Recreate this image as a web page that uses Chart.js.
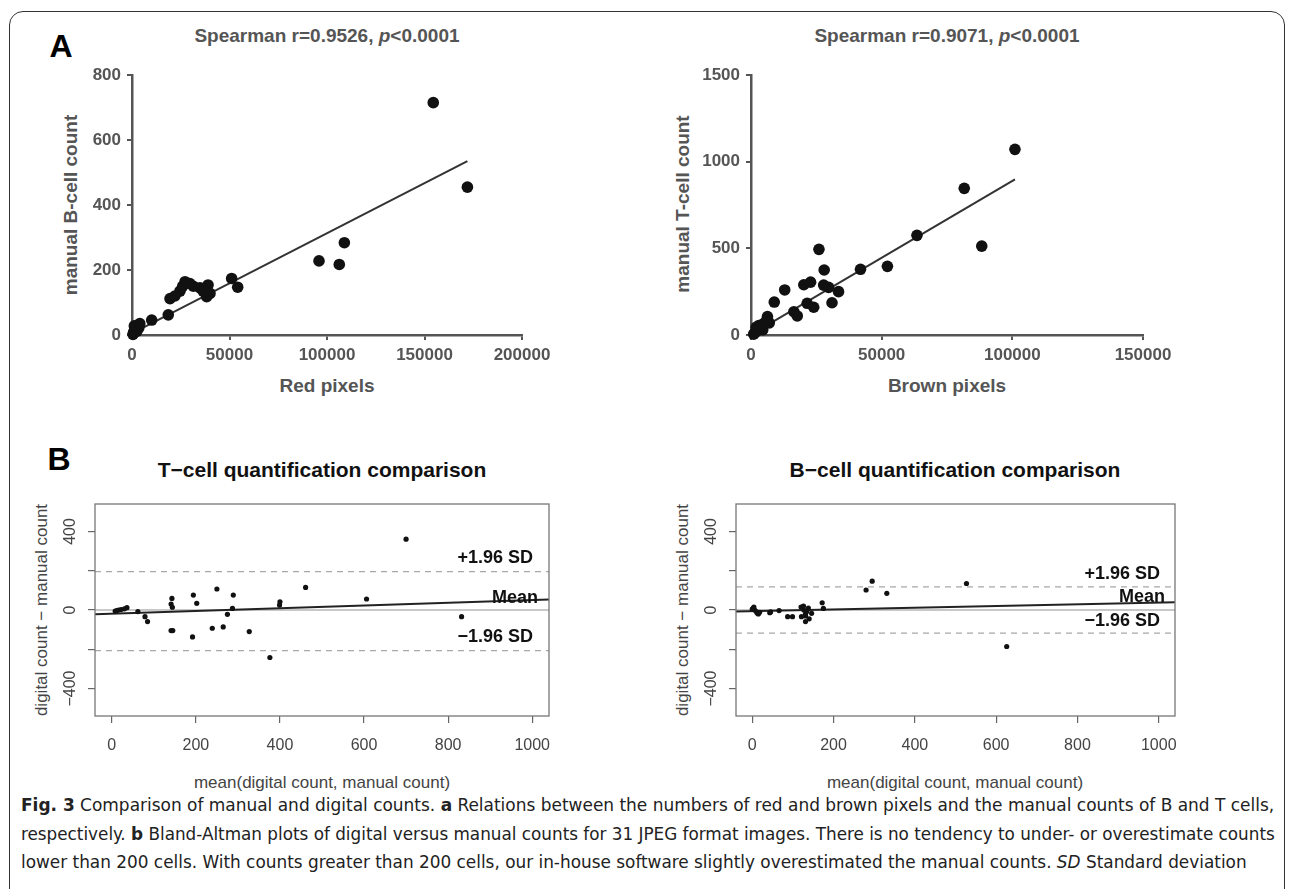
<!DOCTYPE html>
<html>
<head>
<meta charset="utf-8">
<title>Fig. 3 - manual vs digital counts</title>
<script src="https://cdn.jsdelivr.net/npm/chart.js@4.4.1/dist/chart.umd.min.js"></script>
<style>
    body {
        margin: 0;
        width: 1292px;
        height: 889px;
        overflow: hidden;
        position: relative;
        background: #fff;
        font-family: "Liberation Sans", Arial, sans-serif;
    }
    .frame {
        position: absolute;
        left: 9px;
        top: 11px;
        width: 1276px;
        height: 920px;
        border: 1.5px solid #333;
        border-radius: 14px;
        box-sizing: border-box;
    }
    canvas { position: absolute; }
    .t {
        position: absolute;
        white-space: nowrap;
        line-height: 1;
        transform: translate(-50%, -50%);
    }
    .rot { transform: translate(-50%, -50%) rotate(-90deg); }
    .letter { font-size: 32px; font-weight: bold; color: #000; }
    .spear { font-size: 19px; font-weight: bold; color: #555; }
    .prism { font-size: 19px; font-weight: bold; color: #555; }
    .batitle { font-size: 21px; font-weight: bold; color: #111; }
    .balab { font-size: 17px; color: #444; }
    .cap {
        position: absolute;
        left: 21px;
        white-space: nowrap;
        line-height: 20px;
        font-size: 18px;
        color: #222;
        transform-origin: 0 50%;
        font-family: "Liberation Sans Narrow", "DejaVu Sans Condensed", "Liberation Sans", sans-serif;
    }
</style>
</head>
<body>
<div class="frame"></div>

<div class="t letter" style="left:61px; top:46px;">A</div>
<div class="t spear" style="left:327px; top:35px;">Spearman r=0.9526, <i>p</i>&lt;0.0001</div>
<div class="t spear" style="left:947px; top:35px;">Spearman r=0.9071, <i>p</i>&lt;0.0001</div>
<div class="t prism rot" style="left:70px; top:205px;">manual B-cell count</div>
<div class="t prism rot" style="left:682px; top:204px;">manual T-cell count</div>
<div class="t prism" style="left:327px; top:385px;">Red pixels</div>
<div class="t prism" style="left:947px; top:385px;">Brown pixels</div>

<div class="t letter" style="left:59px; top:459px;">B</div>
<div class="t batitle" style="left:322px; top:469px;">T−cell quantification comparison</div>
<div class="t batitle" style="left:955px; top:469px;">B−cell quantification comparison</div>
<div class="t balab rot" style="left:41px; top:610px;">digital count − manual count</div>
<div class="t balab rot" style="left:682px; top:610px;">digital count − manual count</div>
<div class="t balab" style="left:322px; top:782px;">mean(digital count, manual count)</div>
<div class="t balab" style="left:955px; top:782px;">mean(digital count, manual count)</div>

<canvas id="redChart" width="500" height="320" style="left:60px; top:55px;"></canvas>
<canvas id="brownChart" width="500" height="320" style="left:681px; top:55px;"></canvas>
<canvas id="tCellChart" width="510" height="280" style="left:60px; top:490px;"></canvas>
<canvas id="bCellChart" width="500" height="280" style="left:700px; top:490px;"></canvas>

<div class="cap" id="cap1" style="top:795px;"><b>Fig. 3</b> Comparison of manual and digital counts. <b>a</b> Relations between the numbers of red and brown pixels and the manual counts of B and T cells,</div>
<div class="cap" id="cap2" style="top:824px;">respectively. <b>b</b> Bland-Altman plots of digital versus manual counts for 31 JPEG format images. There is no tendency to under- or overestimate counts</div>
<div class="cap" id="cap3" style="top:852px;">lower than 200 cells. With counts greater than 200 cells, our in-house software slightly overestimated the manual counts. <i>SD</i> Standard deviation</div>

<script>
// ---- values ----

// A (left): red pixels vs manual B-cell count
const redPixels = [154500, 172000, 95900, 106300, 108900, 51100, 54200, 27200, 29700, 24600,
    19500, 34900, 39000, 38300, 40000, 18600, 10100, 31500, 36500, 22000,
    26000, 500, 1000, 1500, 2000, 2500, 3000, 800, 3500, 1200, 4000];
const manualBCount = [715, 455, 228, 217, 284, 174, 147, 164, 158, 135,
    112, 145, 154, 118, 128, 62, 46, 150, 135, 120,
    150, 2, 10, 18, 25, 12, 30, 5, 22, 28, 35];
const redFitX = [0, 172000];
const redFitY = [5, 535];
const redTicksX = [0, 50000, 100000, 150000, 200000];
const redTicksY = [0, 200, 400, 600, 800];

// A (right): brown pixels vs manual T-cell count
const brownPixels = [101000, 81600, 88300, 63500, 52200, 41900, 26000, 28000, 20200, 22800,
    27800, 29700, 33500, 31000, 24000, 21500, 16400, 17700, 12900, 8900,
    6300, 5000, 3800, 2500, 1500, 1000, 3000, 6000, 4500, 2000, 7000];
const manualTCount = [1071, 846, 513, 575, 396, 379, 494, 375, 290, 305,
    288, 275, 250, 186, 160, 183, 134, 110, 260, 190,
    106, 67, 40, 25, 12, 5, 55, 85, 30, 45, 70];
const brownFitX = [0, 101000];
const brownFitY = [2, 898];
const brownTicksX = [0, 50000, 100000, 150000];
const brownTicksY = [0, 500, 1000, 1500];

// B (left): T-cell Bland-Altman
const tCellMean = [700, 461, 606, 832, 376, 327, 289, 287, 275, 265,
    239, 250, 194, 202, 192, 141, 145, 143, 141, 144,
    400, 399, 62, 79, 85, 8, 16, 36, 22, 12, 30];
const tCellDiff = [361, 115, 56, -34, -242, -110, 76, 8, -22, -86,
    -93, 107, 76, 34, -137, -105, -105, 59, 30, 14,
    42, 25, -8, -34, -59, -5, 0, 12, 2, -3, 6];
const tMeanLine = [-22, 54];
const tLimits = [195, -207];

// B (right): B-cell Bland-Altman
const bCellMean = [295, 280, 331, 527, 626, 172, 175, 126, 127, 131,
    131, 146, 121, 87, 99, 66, 43, 2, 6, 10,
    12, 15, 0, 134, 138, 4, 120, 131, 140, 45, 18];
const bCellDiff = [147, 102, 85, 135, -186, 37, 8, 20, 0, -20,
    -59, -17, -34, -34, -34, -3, -14, 8, 0, -8,
    -15, -20, 5, -8, 10, 15, 15, -30, -45, -10, -12];
const bMeanLine = [-8, 40];
const bLimits = [118, -118];

// shared Bland-Altman axes
const baRangeX = [-40, 1040];
const baRangeY = [-540, 540];
const baTicksX = [0, 200, 400, 600, 800, 1000];
const baTicksY = [-400, -200, 0, 200, 400];
const baLabelsY = [-400, 0, 400];
const zeroLine = [0, 0];

Chart.defaults.font.family = '"Liberation Sans", Arial, sans-serif';

function toPoints(xs, ys) {
    return xs.map(function(x, i) { return { x: x, y: ys[i] }; });
}

function minus(v) {
    return String(v).replace('-', '\u2212');
}

// GraphPad-style scatter with regression line
function createPrismChart(id, xs, ys, fitX, fitY, ticksX, ticksY, yWidth) {
    const ctx = document.getElementById(id).getContext('2d');
    const tickFont = { size: 17, weight: 'bold' };

    new Chart(ctx, {
        type: 'scatter',
        data: {
            datasets: [
                {
                    data: toPoints(xs, ys),
                    pointRadius: 5.8,
                    pointBackgroundColor: '#111',
                    pointBorderWidth: 0,
                    clip: false,
                    order: 0
                },
                {
                    data: toPoints(fitX, fitY),
                    showLine: true,
                    borderColor: '#333',
                    borderWidth: 2,
                    pointRadius: 0,
                    clip: false,
                    order: 1
                }
            ]
        },
        options: {
            responsive: false,
            animation: false,
            layout: { padding: { top: 20, right: 38, left: 0, bottom: 0 } },
            plugins: {
                legend: { display: false },
                tooltip: { enabled: false }
            },
            scales: {
                x: {
                    type: 'linear',
                    min: ticksX[0],
                    max: ticksX[ticksX.length - 1],
                    afterBuildTicks: function(s) { s.ticks = ticksX.map(function(v) { return { value: v }; }); },
                    afterFit: function(s) { s.height = 40; },
                    grid: { drawOnChartArea: false, tickLength: 5, color: '#555', lineWidth: 2 },
                    border: { color: '#555', width: 2.5 },
                    ticks: {
                        color: '#555',
                        font: tickFont,
                        padding: 5,
                        maxRotation: 0,
                        autoSkip: false,
                        callback: function(v) { return String(v); }
                    }
                },
                y: {
                    type: 'linear',
                    min: ticksY[0],
                    max: ticksY[ticksY.length - 1],
                    afterBuildTicks: function(s) { s.ticks = ticksY.map(function(v) { return { value: v }; }); },
                    afterFit: function(s) { s.width = yWidth; },
                    grid: { drawOnChartArea: false, tickLength: 5, color: '#555', lineWidth: 2 },
                    border: { color: '#555', width: 2.5 },
                    ticks: {
                        color: '#555',
                        font: tickFont,
                        padding: 6,
                        autoSkip: false,
                        callback: function(v) { return String(v); }
                    }
                }
            }
        }
    });
}

// R base-graphics look: full box, rotated y labels, SD/mean labels
const baBoxPlugin = {
    id: 'baBox',
    afterDraw: function(chart, args, opts) {
        const ctx = chart.ctx;
        const a = chart.chartArea;
        const y = chart.scales.y;
        ctx.save();
        ctx.strokeStyle = '#777';
        ctx.lineWidth = 1.3;
        ctx.strokeRect(a.left, a.top, a.right - a.left, a.bottom - a.top);

        ctx.fillStyle = '#444';
        ctx.font = '16px "Liberation Sans", Arial, sans-serif';
        ctx.textAlign = 'center';
        ctx.textBaseline = 'middle';
        baLabelsY.forEach(function(v) {
            ctx.save();
            ctx.translate(a.left - 24, y.getPixelForValue(v));
            ctx.rotate(-Math.PI / 2);
            ctx.fillText(minus(v), 0, 0);
            ctx.restore();
        });

        ctx.fillStyle = '#111';
        ctx.font = 'bold 18px "Liberation Sans", Arial, sans-serif';
        ctx.textAlign = 'right';
        ctx.fillText('+1.96 SD', a.right - opts.sdInset, y.getPixelForValue(opts.limits[0]) - opts.upOffset);
        ctx.fillText('\u22121.96 SD', a.right - opts.sdInset, y.getPixelForValue(opts.limits[1]) - opts.lowOffset);
        ctx.fillText('Mean', a.right - opts.meanInset, y.getPixelForValue(opts.meanLine[1]) - opts.meanOffset);
        ctx.restore();
    }
};

function createBlandAltmanChart(id, means, diffs, meanLine, limits, yWidth, labelPos) {
    const ctx = document.getElementById(id).getContext('2d');

    new Chart(ctx, {
        type: 'scatter',
        data: {
            datasets: [
                {
                    data: toPoints(means, diffs),
                    pointRadius: 2.6,
                    pointBackgroundColor: '#111',
                    pointBorderWidth: 0,
                    order: 0
                },
                {
                    data: toPoints(baRangeX, meanLine),
                    showLine: true,
                    borderColor: '#222',
                    borderWidth: 2,
                    pointRadius: 0,
                    order: 1
                },
                {
                    data: toPoints(baRangeX, zeroLine),
                    showLine: true,
                    borderColor: '#c8c8c8',
                    borderWidth: 2,
                    pointRadius: 0,
                    order: 2
                },
                {
                    data: toPoints(baRangeX, [limits[0], limits[0]]),
                    showLine: true,
                    borderColor: '#a8a8a8',
                    borderWidth: 1.3,
                    borderDash: [6, 5],
                    pointRadius: 0,
                    order: 3
                },
                {
                    data: toPoints(baRangeX, [limits[1], limits[1]]),
                    showLine: true,
                    borderColor: '#a8a8a8',
                    borderWidth: 1.3,
                    borderDash: [6, 5],
                    pointRadius: 0,
                    order: 3
                }
            ]
        },
        options: {
            responsive: false,
            animation: false,
            layout: { padding: { top: 14, right: labelPos.padRight, left: 0, bottom: 0 } },
            plugins: {
                legend: { display: false },
                tooltip: { enabled: false },
                baBox: {
                    limits: limits,
                    meanLine: meanLine,
                    sdInset: labelPos.sdInset,
                    meanInset: labelPos.meanInset,
                    upOffset: labelPos.upOffset,
                    lowOffset: labelPos.lowOffset,
                    meanOffset: labelPos.meanOffset
                }
            },
            scales: {
                x: {
                    type: 'linear',
                    min: baRangeX[0],
                    max: baRangeX[1],
                    afterBuildTicks: function(s) { s.ticks = baTicksX.map(function(v) { return { value: v }; }); },
                    afterFit: function(s) { s.height = 54; },
                    grid: { drawOnChartArea: false, tickLength: 7, color: '#666', lineWidth: 1.2 },
                    border: { display: false },
                    ticks: {
                        color: '#444',
                        font: { size: 16 },
                        padding: 13,
                        maxRotation: 0,
                        autoSkip: false,
                        callback: function(v) { return String(v); }
                    }
                },
                y: {
                    type: 'linear',
                    min: baRangeY[0],
                    max: baRangeY[1],
                    afterBuildTicks: function(s) { s.ticks = baTicksY.map(function(v) { return { value: v }; }); },
                    afterFit: function(s) { s.width = yWidth; },
                    grid: { drawOnChartArea: false, tickLength: 7, color: '#666', lineWidth: 1.2 },
                    border: { display: false },
                    ticks: { color: 'rgba(0,0,0,0)', autoSkip: false }
                }
            }
        },
        plugins: [baBoxPlugin]
    });
}

// caption lines are set in a condensed face; stretch them to the column width
function fitCaption() {
    const l1 = document.getElementById('cap1');
    const l2 = document.getElementById('cap2');
    const l3 = document.getElementById('cap3');
    const s1 = 1253 / l1.scrollWidth;
    const s2 = 1254 / l2.scrollWidth;
    l1.style.transform = 'scaleX(' + s1 + ')';
    l2.style.transform = 'scaleX(' + s2 + ')';
    l3.style.transform = 'scaleX(' + ((s1 + s2) / 2) + ')';
}

document.addEventListener('DOMContentLoaded', function() {
    createPrismChart('redChart', redPixels, manualBCount, redFitX, redFitY, redTicksX, redTicksY, 72);
    createPrismChart('brownChart', brownPixels, manualTCount, brownFitX, brownFitY, brownTicksX, brownTicksY, 70);
    createBlandAltmanChart('tCellChart', tCellMean, tCellDiff, tMeanLine, tLimits, 35,
        { padRight: 21, sdInset: 16, meanInset: 11, upOffset: 14, lowOffset: 14, meanOffset: 1 });
    createBlandAltmanChart('bCellChart', bCellMean, bCellDiff, bMeanLine, bLimits, 36,
        { padRight: 25, sdInset: 15, meanInset: 10, upOffset: 13, lowOffset: 12, meanOffset: 5 });
    fitCaption();
});
</script>
</body>
</html>
